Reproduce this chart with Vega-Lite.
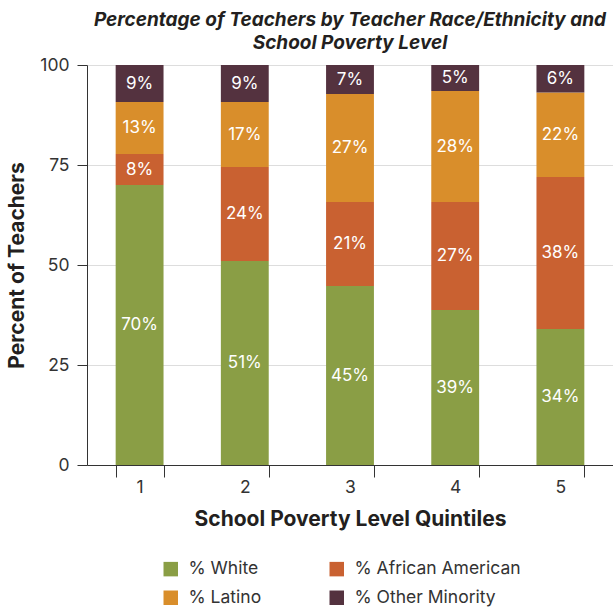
{
  "$schema": "https://vega.github.io/schema/vega-lite/v6.json",
  "autosize": "none",
  "padding": {"left": 87, "top": 65, "right": 0, "bottom": 142},
  "width": 526,
  "height": 400,
  "background": "white",
  "title": {
    "text": ["Percentage of Teachers by Teacher Race/Ethnicity and", "School Poverty Level"],
    "font": "Inter",
    "fontSize": 19,
    "fontWeight": "bold",
    "fontStyle": "italic",
    "color": "#231f20",
    "lineHeight": 23,
    "anchor": "middle",
    "offset": 3
  },
  "data": {
    "values": [
      {"quintile": "1", "group": "% White", "ord": 1, "value": 70, "label": "70%"},
      {"quintile": "1", "group": "% African American", "ord": 2, "value": 7.75, "label": "8%"},
      {"quintile": "1", "group": "% Latino", "ord": 3, "value": 13, "label": "13%"},
      {"quintile": "1", "group": "% Other Minority", "ord": 4, "value": 9.25, "label": "9%"},
      {"quintile": "2", "group": "% White", "ord": 1, "value": 51, "label": "51%"},
      {"quintile": "2", "group": "% African American", "ord": 2, "value": 23.5, "label": "24%"},
      {"quintile": "2", "group": "% Latino", "ord": 3, "value": 16.25, "label": "17%"},
      {"quintile": "2", "group": "% Other Minority", "ord": 4, "value": 9.25, "label": "9%"},
      {"quintile": "3", "group": "% White", "ord": 1, "value": 44.75, "label": "45%"},
      {"quintile": "3", "group": "% African American", "ord": 2, "value": 21, "label": "21%"},
      {"quintile": "3", "group": "% Latino", "ord": 3, "value": 27, "label": "27%"},
      {"quintile": "3", "group": "% Other Minority", "ord": 4, "value": 7.25, "label": "7%"},
      {"quintile": "4", "group": "% White", "ord": 1, "value": 38.75, "label": "39%"},
      {"quintile": "4", "group": "% African American", "ord": 2, "value": 27, "label": "27%"},
      {"quintile": "4", "group": "% Latino", "ord": 3, "value": 27.75, "label": "28%"},
      {"quintile": "4", "group": "% Other Minority", "ord": 4, "value": 6.5, "label": "5%"},
      {"quintile": "5", "group": "% White", "ord": 1, "value": 34, "label": "34%"},
      {"quintile": "5", "group": "% African American", "ord": 2, "value": 38, "label": "38%"},
      {"quintile": "5", "group": "% Latino", "ord": 3, "value": 21.1, "label": "22%"},
      {"quintile": "5", "group": "% Other Minority", "ord": 4, "value": 6.9, "label": "6%"}
    ]
  },
  "transform": [
    {"stack": "value", "groupby": ["quintile"], "sort": [{"field": "ord", "order": "ascending"}], "as": ["y0", "y1"]},
    {"calculate": "(datum.y0 + datum.y1) / 2", "as": "ymid"}
  ],
  "encoding": {
    "x": {
      "field": "quintile",
      "type": "ordinal",
      "title": "School Poverty Level Quintiles",
      "scale": {"paddingInner": 0.545, "paddingOuter": 0.2725},
      "axis": {
        "labelAngle": 0,
        "tickBand": "extent",
        "tickSize": 12,
        "tickColor": "#333333",
        "domainColor": "#333333",
        "labelFont": "Inter",
        "labelFontSize": 17.5,
        "labelColor": "#333333",
        "labelPadding": 1,
        "titleFont": "Inter",
        "titleFontSize": 21,
        "titleFontWeight": "bold",
        "titleColor": "#231f20",
        "titlePadding": 13
      }
    }
  },
  "layer": [
    {
      "mark": {"type": "bar"},
      "encoding": {
        "y": {
          "field": "y0",
          "type": "quantitative",
          "title": "Percent of Teachers",
          "scale": {"domain": [0, 100], "nice": false},
          "axis": {
            "values": [0, 25, 50, 75, 100],
            "grid": true,
            "gridColor": "#dddddd",
            "tickSize": 10,
            "tickColor": "#333333",
            "domainColor": "#333333",
            "labelFont": "Inter",
            "labelFontSize": 17.5,
            "labelColor": "#333333",
            "labelPadding": 8,
            "titleFont": "Inter",
            "titleFontSize": 21,
            "titleFontWeight": "bold",
            "titleColor": "#231f20",
            "titlePadding": 12
          }
        },
        "y2": {"field": "y1"},
        "color": {
          "field": "group",
          "type": "nominal",
          "scale": {
            "domain": ["% White", "% African American", "% Latino", "% Other Minority"],
            "range": ["#8a9e45", "#c96131", "#d98e2b", "#54323f"]
          },
          "legend": {
            "title": null,
            "orient": "none",
            "direction": "horizontal",
            "legendX": 75,
            "legendY": 495,
            "columns": 2,
            "columnPadding": 66,
            "rowPadding": 10,
            "symbolType": "square",
            "symbolSize": 210,
            "symbolStrokeWidth": 0,
            "symbolOpacity": 1,
            "labelFont": "Inter",
            "labelFontSize": 17.5,
            "labelColor": "#333333",
            "labelOffset": 9,
            "labelLimit": 300
          }
        }
      }
    },
    {
      "mark": {"type": "text", "color": "white", "font": "Inter", "fontSize": 17, "baseline": "middle", "align": "center"},
      "encoding": {
        "y": {"field": "ymid", "type": "quantitative"},
        "text": {"field": "label"}
      }
    }
  ],
  "config": {"view": {"stroke": null}}
}
